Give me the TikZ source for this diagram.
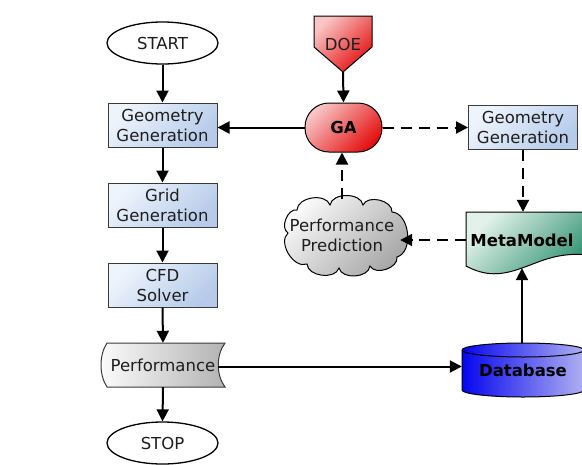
\documentclass[tikz,border=0pt]{standalone}
\usepackage{fontspec}
\setmainfont{DejaVu Sans}
\usetikzlibrary{arrows.meta,shapes.geometric}
\definecolor{bb1}{HTML}{EEF4FC}
\definecolor{bb2}{HTML}{B6CBEA}
\definecolor{rd1}{HTML}{F8C4C4}
\definecolor{rd2}{HTML}{E41010}
\definecolor{gr1}{HTML}{E2F2EA}
\definecolor{gr2}{HTML}{2E9070}
\definecolor{bl1}{HTML}{0606F0}
\definecolor{bl2}{HTML}{B0B0F2}
\definecolor{gy1}{HTML}{FCFCFC}
\definecolor{gy2}{HTML}{A4A4A4}
\definecolor{edge}{HTML}{3A3A3A}
\definecolor{txt}{HTML}{1E1E1E}
\begin{document}
\begin{tikzpicture}[x=1pt,y=-1pt,
  font=\fontsize{16.5}{20}\selectfont, text=txt,
  every node/.style={align=center, inner sep=0pt},
  diag/.style 2 args={top color=#1, bottom color=#2, shading angle=45},
  term/.style={ellipse, draw=black, line width=1.3pt, fill=white, minimum width=111pt, minimum height=42pt},
  proc/.style={rectangle, draw=edge, line width=1pt, diag={bb1}{bb2}, minimum width=109pt, minimum height=44pt},
  arr/.style={line width=2pt, -{Triangle[length=12pt,width=12pt]}},
  darr/.style={arr, dash pattern=on 11pt off 7pt},
  shapeline/.style={draw=black, line width=1pt},
  puff/.style={bend left=80},
  boldtxt/.style={font=\fontsize{16.5}{20}\selectfont\bfseries, text=black}
]
\useasboundingbox (0,0) rectangle (582,464);
\clip (0,0) rectangle (582,464);
\fill[white] (0,0) rectangle (582,464);

% left column
\node[term] (start) at (162.5,43) {START};
\node[proc] (geo1) at (162.5,125) {Geometry\\Generation};
\node[proc] (grid) at (162.5,205) {Grid\\Generation};
\node[proc] (cfd) at (162.5,285) {CFD\\Solver};
% performance shape
\path[shapeline, draw=edge, left color=gy1, right color=gray!60]
  (107,343) -- (225,343) .. controls (216,355) and (216,375) .. (225,387)
  -- (107,387) .. controls (99,375) and (99,355) .. (107,343) -- cycle;
\node[minimum width=118pt, minimum height=44pt] (perf) at (163,365) {Performance};
\node[term] (stop) at (162.5,443) {STOP};

% DOE
\path[shapeline, diag={rd1}{rd2}]
  (314,16) -- (372,16) -- (372,47) -- (343,72) -- (314,47) -- cycle;
\node[minimum width=58pt, minimum height=56pt] (doe) at (343,44) {DOE};
% GA
\node[rectangle, rounded corners=24pt, draw=black, line width=1pt, diag={rd1}{rd2},
  minimum width=77pt, minimum height=49pt, boldtxt] (ga) at (343.5,127.5) {GA};
% right geometry generation
\node[proc] (geo2) at (523,127.5) {Geometry\\Generation};

% Performance prediction cloud
\path[shapeline, diag={gy1}{gy2}]
  (297,210) to[puff] (330,205) to[puff] (363,205) to[puff] (392,212)
  to[puff] (397,257) to[puff] (370,266) to[puff] (339,268)
  to[puff] (307,264) to[puff] (288,233) to[puff] (297,210) -- cycle;
\node[minimum width=118pt, minimum height=72pt] (pred) at (342,235) {Performance\\Prediction};

% MetaModel document shape
\path[shapeline, diag={gr1}{gr2}]
  (466,212) -- (595,212) -- (595,256) .. controls (560,250) and (540,262) .. (522,268)
  .. controls (500,276) and (485,276) .. (466,266) -- cycle;
\node[minimum width=112pt, minimum height=56pt, boldtxt] (meta) at (522,240) {MetaModel};

% Database cylinder
\path[shapeline, left color=bl1, right color=bl2]
  (462,350) -- (462,390) arc[start angle=180, end angle=360, x radius=61pt, y radius=7pt]
  -- (584,350) arc[start angle=0, end angle=180, x radius=61pt, y radius=7pt] -- cycle;
\draw[line width=1pt] (462,350) arc[start angle=180, end angle=360, x radius=61pt, y radius=7pt];
\node[minimum width=122pt, minimum height=56pt, boldtxt] (db) at (523,370) {Database};

% connectors
\draw[arr] (start.south) -- (geo1.north);
\draw[arr] (geo1.south) -- (grid.north);
\draw[arr] (grid.south) -- (cfd.north);
\draw[arr] (cfd.south) -- (perf.north);
\draw[arr] (perf.south) -- (stop.north);
\draw[arr] (doe.south) -- (ga.north);
\draw[arr] (ga.west) -- (ga.west -| geo1.east);
\draw[darr] (ga.east) -- (ga.east -| geo2.west);
\draw[darr] (geo2.south) -- (geo2.south |- meta.north);
\draw[darr] (meta.west) -- ([xshift=-1pt]meta.west -| pred.east);
\draw[darr] (pred.north) -- (pred.north |- ga.south);
\draw[arr] ([xshift=-4pt,yshift=-1.5pt]perf.east) -- ([yshift=-1.5pt]perf.east -| db.west);
\draw[arr] (db.north) -- (db.north -| meta.south) -- (meta.south);
\end{tikzpicture}
\end{document}
